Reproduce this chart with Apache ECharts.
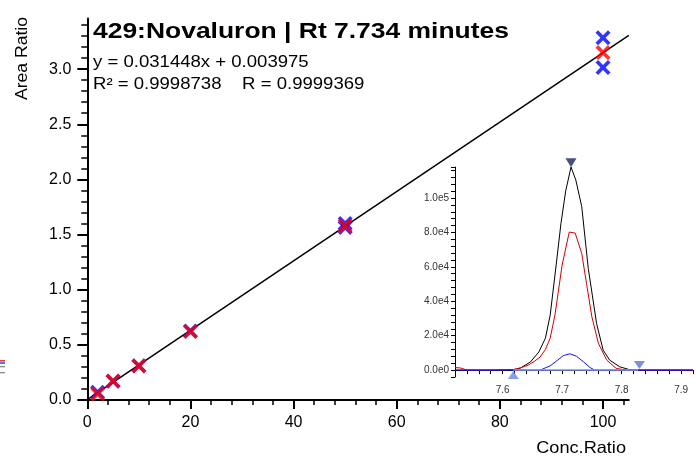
<!DOCTYPE html>
<html><head><meta charset="utf-8">
<script src="https://cdn.jsdelivr.net/npm/echarts@6/dist/echarts.min.js"></script>
<style>html,body{margin:0;padding:0;background:#fff}#c{width:696px;height:457px}</style>
</head><body><div id="c"></div>
<script>
const FONT = "'Liberation Sans', Arial, Helvetica, sans-serif";
const titleText = '429:Novaluron | Rt 7.734 minutes';
const equationText = 'y = 0.031448x + 0.003975';
const fitText = 'R\u00b2 = 0.9998738    R = 0.9999369';
const xAxisName = 'Conc.Ratio';
const yAxisName = 'Area Ratio';

// calibration points
const replicateConc = [2, 5, 10, 20, 50, 50, 100, 100];
const replicateArea = [0.07, 0.17, 0.31, 0.625, 1.60, 1.565, 3.285, 3.015];
const meanConc = [2, 5, 10, 20, 50, 100];
const meanArea = [0.054, 0.172, 0.308, 0.62, 1.58, 3.15];
// regression line end points
const fitConc = [0, 105];
const fitArea = [0.003975, 3.306];

// tick values (main chart)
const xMajorTicks = [0, 20, 40, 60, 80, 100];
const xMinorTicks = [0, 4, 8, 12, 16, 20, 24, 28, 32, 36, 40, 44, 48, 52, 56, 60, 64, 68, 72, 76, 80, 84, 88, 92, 96, 100, 104];
const yMajorTicks = [0, 0.5, 1.0, 1.5, 2.0, 2.5, 3.0];
const yMinorTicks = [0, 0.1, 0.2, 0.3, 0.4, 0.5, 0.6, 0.7, 0.8, 0.9, 1.0, 1.1, 1.2, 1.3, 1.4, 1.5, 1.6, 1.7, 1.8, 1.9, 2.0, 2.1, 2.2, 2.3, 2.4, 2.5, 2.6, 2.7, 2.8, 2.9, 3.0, 3.1, 3.2, 3.3, 3.4];

// inset chromatogram traces
const blackTime = [7.52, 7.55, 7.58, 7.60, 7.618, 7.630, 7.647, 7.661, 7.672, 7.680, 7.690, 7.698, 7.706, 7.715, 7.723, 7.733, 7.744, 7.758, 7.769, 7.780, 7.797, 7.813, 7.83, 7.86, 7.89, 7.92];
const blackInt  = [0, 0, 0, 0, 200, 1200, 4800, 10600, 18600, 32000, 61000, 85000, 104000, 118000, 110500, 95000, 59000, 27000, 11600, 5800, 1900, 300, 0, 0, 0, 0];
const redTime = [7.52, 7.53, 7.54, 7.58, 7.618, 7.630, 7.643, 7.653, 7.663, 7.672, 7.680, 7.688, 7.700, 7.712, 7.722, 7.733, 7.741, 7.750, 7.761, 7.775, 7.791, 7.808, 7.85, 7.92];
const redInt  = [1500, 1200, 0, 0, 300, 1300, 2900, 5000, 7600, 12000, 18600, 32000, 61000, 80200, 79600, 67800, 50400, 31000, 15500, 5800, 1000, 0, 0, 0];
const blueTime = [7.52, 7.60, 7.663, 7.680, 7.691, 7.702, 7.713, 7.724, 7.736, 7.747, 7.755, 7.80, 7.92];
const blueInt  = [0, 0, 0, 2500, 5400, 8400, 9500, 8100, 4800, 1500, 0, 0, 0];
const baselineTime = [7.618, 7.828];
const baselineInt = [0, 0];
const peakMark = [7.715, 120500];
const startMark = [7.618, -2900];
const endMark = [7.830, 2900];

const zip = (a, b) => a.map((v, i) => [v, b[i]]);
const XSYM = 'path://M0,1.7L1.7,0L5,3.3L8.3,0L10,1.7L6.7,5L10,8.3L8.3,10L5,6.7L1.7,10L0,8.3L3.3,5Z';

const chart = echarts.init(document.getElementById('c'), null, {renderer: 'canvas'});
const option = {
  animation: false,
  backgroundColor: '#fff',
  textStyle: {fontFamily: FONT},
  grid: [
    {left: 87.3, right: 67.2, top: 18.4, bottom: 57},
    {left: 455, top: 167, width: 240, height: 210}
  ],
  xAxis: [
    {gridIndex: 0, type: 'value', min: 0, max: 105, position: 'bottom',
     axisLine: {show: true, lineStyle: {color: '#000', width: 2}},
     axisTick: {show: true, customValues: xMajorTicks, length: 9, lineStyle: {color: '#000', width: 2}},
     axisLabel: {customValues: xMajorTicks, fontSize: 16, color: '#000', margin: 15, fontFamily: FONT},
     splitLine: {show: false}},
    {gridIndex: 0, type: 'value', min: 0, max: 105, position: 'bottom',
     axisLine: {show: false},
     axisTick: {show: true, customValues: xMinorTicks, length: 5, lineStyle: {color: '#000', width: 1.5}},
     axisLabel: {show: false}, splitLine: {show: false}},
    {gridIndex: 1, type: 'value', min: 7.52, max: 7.92, interval: 0.02, position: 'bottom',
     axisLine: {show: true, lineStyle: {color: '#000', width: 1}},
     axisTick: {show: true, length: 4, lineStyle: {color: '#000', width: 1}},
     axisLabel: {fontSize: 10, color: '#333', margin: 8, fontFamily: FONT,
       formatter: v => (Math.abs(v * 10 - Math.round(v * 10)) < 1e-6 ? v.toFixed(1) : '')},
     splitLine: {show: false}}
  ],
  yAxis: [
    {gridIndex: 0, type: 'value', min: 0, max: 3.46, position: 'left',
     axisLine: {show: true, lineStyle: {color: '#000', width: 2}},
     axisTick: {show: true, customValues: yMajorTicks, length: 10, lineStyle: {color: '#000', width: 2}},
     axisLabel: {customValues: yMajorTicks, formatter: v => v.toFixed(1), fontSize: 16, color: '#000', margin: 16, fontFamily: FONT},
     splitLine: {show: false}},
    {gridIndex: 0, type: 'value', min: 0, max: 3.46, position: 'left',
     axisLine: {show: false},
     axisTick: {show: true, customValues: yMinorTicks, length: 6, lineStyle: {color: '#000', width: 1.5}},
     axisLabel: {show: false}, splitLine: {show: false}},
    {gridIndex: 1, type: 'value', min: -4000, max: 118000, interval: 4000, position: 'left',
     axisLine: {show: true, lineStyle: {color: '#000', width: 1}},
     axisTick: {show: true, length: 4, lineStyle: {color: '#000', width: 1}},
     axisLabel: {fontSize: 10, color: '#333', margin: 6, fontFamily: FONT,
       formatter: v => (Math.abs(v) % 20000 === 0 ? v.toExponential(1).replace('+', '') : '')},
     splitLine: {show: false}}
  ],
  series: [
    {type: 'line', xAxisIndex: 0, yAxisIndex: 0, data: zip(fitConc, fitArea), showSymbol: false,
     lineStyle: {color: '#000', width: 1.5}, z: 2, silent: true},
    {type: 'scatter', xAxisIndex: 0, yAxisIndex: 0, data: zip(replicateConc, replicateArea),
     symbol: XSYM, symbolSize: 15, itemStyle: {color: '#0000ff'}, z: 3},
    {type: 'scatter', xAxisIndex: 0, yAxisIndex: 0, data: zip(meanConc, meanArea),
     symbol: XSYM, symbolSize: 15, itemStyle: {color: '#ff0000'}, z: 4},
    {type: 'line', xAxisIndex: 2, yAxisIndex: 2, data: zip(blackTime, blackInt), showSymbol: false,
     lineStyle: {color: '#000', width: 1}, z: 5},
    {type: 'line', xAxisIndex: 2, yAxisIndex: 2, data: zip(redTime, redInt), showSymbol: false,
     lineStyle: {color: '#d40000', width: 1}, z: 5},
    {type: 'line', xAxisIndex: 2, yAxisIndex: 2, data: zip(blueTime, blueInt), showSymbol: false,
     lineStyle: {color: '#1010ff', width: 1}, z: 5},
    {type: 'line', xAxisIndex: 2, yAxisIndex: 2, data: zip(baselineTime, baselineInt), showSymbol: false,
     lineStyle: {color: '#7f95f2', width: 1.5}, z: 6},
    {type: 'scatter', xAxisIndex: 2, yAxisIndex: 2, clip: false, data: [peakMark],
     symbol: 'triangle', symbolRotate: 180, symbolSize: [11, 9], itemStyle: {color: '#16245e'}, z: 7},
    {type: 'scatter', xAxisIndex: 2, yAxisIndex: 2, clip: false, data: [startMark],
     symbol: 'triangle', symbolSize: [11, 8], itemStyle: {color: '#6b86e6'}, z: 7},
    {type: 'scatter', xAxisIndex: 2, yAxisIndex: 2, clip: false, data: [endMark],
     symbol: 'triangle', symbolRotate: 180, symbolSize: [11, 8], itemStyle: {color: '#5b74dc'}, z: 7}
  ],
  graphic: [
    {type: 'text', x: 93, y: 31.7, scaleX: 1.23, style: {text: titleText, font: 'bold 21.5px ' + FONT, fill: '#000', textVerticalAlign: 'middle', textAlign: 'left'}},
    {type: 'text', x: 93, y: 62.5, scaleX: 1.14, style: {text: equationText, font: '16.3px ' + FONT, fill: '#000', textVerticalAlign: 'middle', textAlign: 'left'}},
    {type: 'text', x: 93, y: 84.2, scaleX: 1.14, style: {text: fitText, font: '16.3px ' + FONT, fill: '#000', textVerticalAlign: 'middle', textAlign: 'left'}},
    {type: 'text', x: 22.5, y: 58.5, rotation: Math.PI / 2, scaleX: 1.08, style: {text: yAxisName, font: '16.3px ' + FONT, fill: '#000', textVerticalAlign: 'middle', textAlign: 'center'}},
    {type: 'text', x: 626, y: 448, scaleX: 1.1, style: {text: xAxisName, font: '16.5px ' + FONT, fill: '#000', textVerticalAlign: 'middle', textAlign: 'right'}},
    {type: 'rect', shape: {x: 0, y: 360, width: 5, height: 1.6}, style: {fill: '#e04040'}},
    {type: 'rect', shape: {x: 0, y: 362.2, width: 5, height: 1.6}, style: {fill: '#4050e0'}},
    {type: 'rect', shape: {x: 0, y: 366, width: 5, height: 1.3}, style: {fill: '#888'}},
    {type: 'rect', shape: {x: 0, y: 372, width: 5, height: 1.3}, style: {fill: '#888'}}
  ]
};
chart.setOption(option);
</script>
</body></html>
